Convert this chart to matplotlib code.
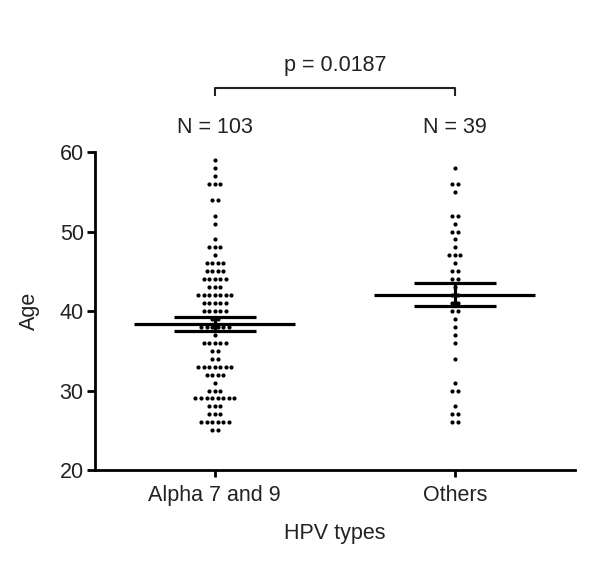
import numpy as np
import matplotlib
matplotlib.use("Agg")
import matplotlib.pyplot as plt

plt.rcParams['font.family'] = ['Liberation Sans', 'DejaVu Sans']

# ages, with how many dots sit on each row
alpha_ages = [59, 58, 57, 56, 54, 52, 51, 49, 48, 47, 46, 45, 44, 43, 42, 41,
              40, 39, 38, 37, 36, 35, 34, 33, 32, 31, 30, 29, 28, 27, 26, 25]
alpha_counts = [1, 1, 1, 3, 2, 1, 1, 1, 3, 1, 4, 4, 5, 3, 7, 5,
                5, 2, 6, 1, 5, 2, 2, 7, 4, 1, 3, 8, 3, 3, 6, 2]
other_ages = [58, 56, 55, 52, 51, 50, 49, 48, 47, 46, 45, 44, 43, 42, 41,
              40, 39, 38, 37, 36, 34, 31, 30, 28, 27, 26]
other_counts = [1, 2, 1, 2, 1, 2, 1, 1, 3, 1, 2, 2, 1, 2, 2,
                2, 1, 1, 1, 1, 1, 1, 2, 1, 2, 2]

groups = ["Alpha 7 and 9", "Others"]
p_text = "p = 0.0187"

TXT = '#222222'
FS = 15.5
step = 0.023  # horizontal gap between dots in a row (data units)

fig = plt.figure(figsize=(6.0, 5.82), dpi=100)
ax = fig.add_axes([0.158, 0.1924, 0.80, 0.5464])

for xpos, ages, counts in [(1, alpha_ages, alpha_counts), (2, other_ages, other_counts)]:
    xs, ys = [], []
    for a, n in zip(ages, counts):
        for i in range(n):
            xs.append(xpos + (i - (n - 1) / 2) * step)
            ys.append(a)
    ax.scatter(xs, ys, s=9, color='black', zorder=3, linewidths=0)
    vals = np.repeat(ages, counts)
    m = vals.mean()
    sem = vals.std(ddof=1) / np.sqrt(len(vals))
    ax.plot([xpos - 0.335, xpos + 0.335], [m, m], color='black', lw=2.3, zorder=4,
            solid_capstyle='butt')
    for v in (m - sem, m + sem):
        ax.plot([xpos - 0.17, xpos + 0.17], [v, v], color='black', lw=2.3, zorder=4,
                solid_capstyle='butt')
    ax.plot([xpos, xpos], [m - sem, m + sem], color='black', lw=2.3, zorder=4)
    ax.text(xpos, 63.1, "N = %d" % len(vals), ha='center', va='center',
            fontsize=FS, color=TXT, clip_on=False)

ax.set_xlim(0.5, 2.5)
ax.set_ylim(20, 60)
ax.set_yticks([20, 30, 40, 50, 60])
ax.set_xticks([1, 2])
ax.set_xticklabels(groups)
ax.spines['top'].set_visible(False)
ax.spines['right'].set_visible(False)
for sp in ('left', 'bottom'):
    ax.spines[sp].set_linewidth(2.0)
ax.tick_params(axis='both', width=2.0, length=6, labelsize=FS, labelcolor=TXT, pad=2)
ax.tick_params(axis='x', length=5, pad=6)

ax.set_xlabel("HPV types", fontsize=FS, color=TXT, labelpad=12)
ax.set_ylabel("Age", fontsize=FS, color=TXT, labelpad=14)

# significance bracket
ax.plot([1, 1, 2, 2], [67.2, 68.1, 68.1, 67.2], color='#222222', lw=1.5, clip_on=False)
ax.text(1.5, 70.9, p_text, ha='center', va='center', fontsize=FS, color=TXT,
        clip_on=False)

fig.savefig("out.png", dpi=100)
